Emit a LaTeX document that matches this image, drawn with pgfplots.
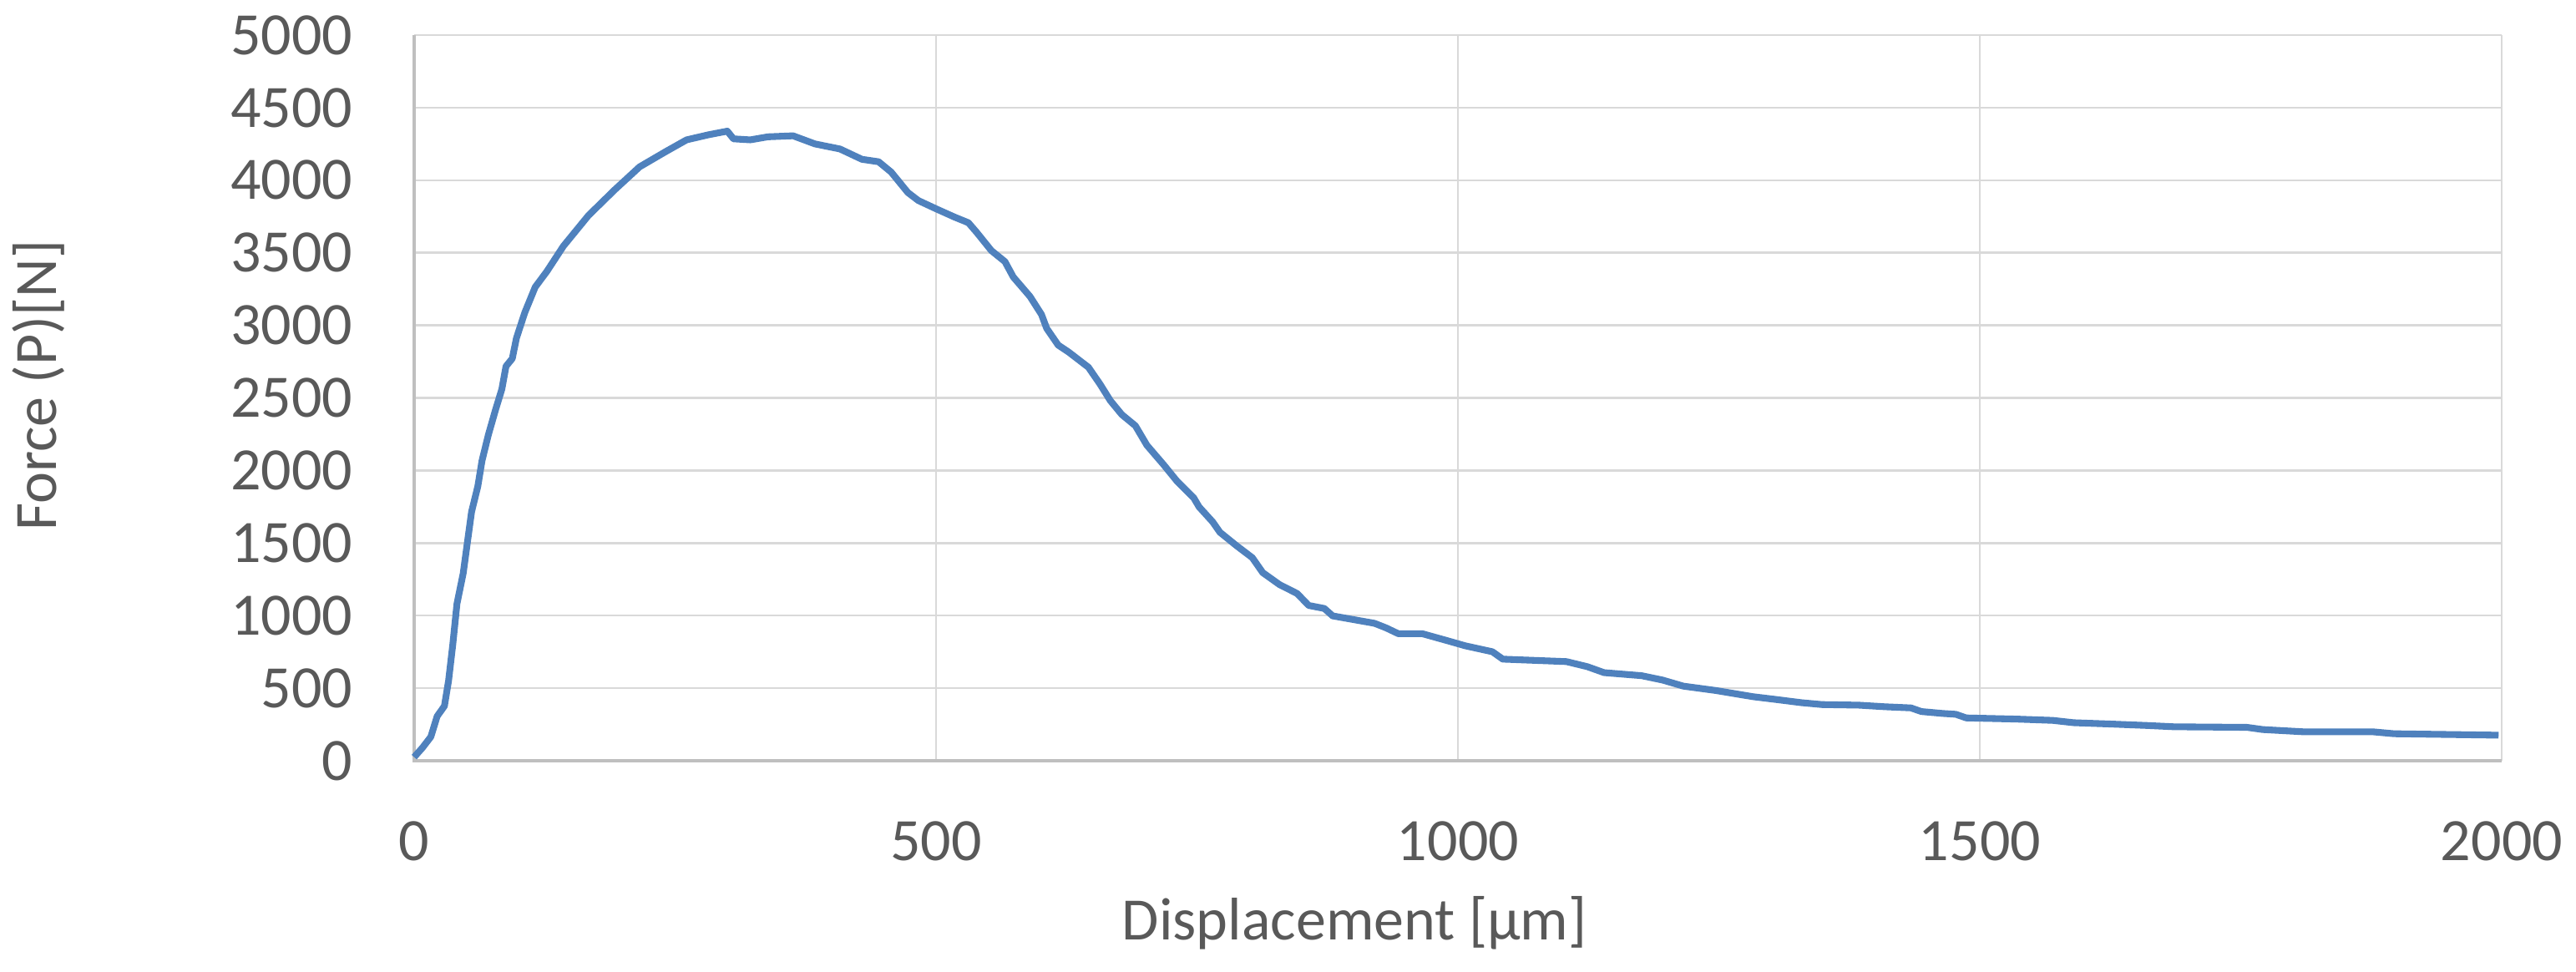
\documentclass[border=0pt]{standalone}
\usepackage{pgfplots}
\pgfplotsset{compat=1.18}
\usepackage{fontspec}
\setmainfont{Carlito}
\definecolor{txt}{HTML}{595959}
\definecolor{gridc}{HTML}{D9D9D9}
\definecolor{axc}{HTML}{BFBFBF}
\definecolor{lineblue}{HTML}{4F81BD}
\begin{document}
\begin{tikzpicture}
\begin{axis}[
  at={(0,0)}, anchor=south west,
  scale only axis, width=25cm, height=8.69cm,
  xmin=0, xmax=2000, ymin=0, ymax=5000,
  xtick={0,500,...,2000}, ytick={0,500,...,5000},
  major tick length=0pt,
  grid=major, major grid style={color=gridc, line width=0.7pt},
  axis line style={draw=none},
  /pgf/number format/assume math mode=true,
  /pgf/number format/set thousands separator={},
  tick label style={font=\fontsize{20.5}{24}\selectfont, text=txt, inner sep=0pt},
  xticklabel style={anchor=base, yshift=-1.19cm},
  yticklabel style={anchor=east, xshift=-0.73cm},
  xlabel={Displacement [µm]}, ylabel={Force (P)[N]},
  every axis x label/.style={at={(axis description cs:0.4505,0)}, yshift=-2.14cm, anchor=base, font=\fontsize{20.5}{24}\selectfont, text=txt, inner sep=0pt},
  every axis y label/.style={at={(axis description cs:0,0.517)}, xshift=-4.28cm, rotate=90, anchor=base, font=\fontsize{20.5}{24}\selectfont, text=txt, inner sep=0pt},
  clip=false,
]
\draw[axc, line width=1.1pt] (axis cs:0,5000) -- (axis cs:0,0) -- (axis cs:2000,0);
\addplot[lineblue, line width=2.3pt, line join=round] coordinates {
(0,25) (8,90) (16,165) (22,306) (29,377) (33,553) (37,800) (41,1081) (47,1292)
(51,1504) (55,1715) (61,1891) (65,2067) (71,2243) (78,2419) (84,2560) (88,2718)
(94,2771) (98,2912) (106,3088) (116,3264) (127,3370) (143,3546) (167,3757)
(192,3933) (216,4092) (241,4197) (261,4278) (282,4313) (300,4338) (306,4285)
(322,4278) (339,4299) (363,4306) (384,4250) (408,4215) (429,4144) (445,4127)
(457,4056) (473,3915) (483,3860) (500,3803) (518,3745) (531,3707) (539,3640)
(553,3515) (566,3439) (574,3333) (590,3199) (601,3075) (606,2979) (617,2864)
(627,2816) (646,2711) (657,2596) (667,2481) (678,2385) (691,2308) (702,2174)
(718,2040) (731,1925) (747,1810) (752,1749) (765,1646) (772,1574) (788,1481)
(803,1399) (813,1296) (829,1214) (846,1152) (857,1070) (872,1049) (880,998)
(920,947) (931,916) (943,875) (966,875) (987,833) (1007,792) (1033,751)
(1043,700) (1104,683) (1124,648) (1140,607) (1176,586) (1196,556) (1216,514)
(1247,484) (1283,441) (1306,421) (1329,400) (1349,387) (1384,383) (1409,372)
(1434,364) (1444,339) (1464,326) (1477,320) (1487,295) (1535,287) (1570,278)
(1590,262) (1625,253) (1660,243) (1686,234) (1756,230) (1771,215) (1811,199)
(1877,199) (1897,186) (1937,182) (1997,176)
};
\end{axis}
\pgfresetboundingbox
\useasboundingbox (-4.96,-2.52) rectangle (25.89,9.11);
\end{tikzpicture}
\end{document}
